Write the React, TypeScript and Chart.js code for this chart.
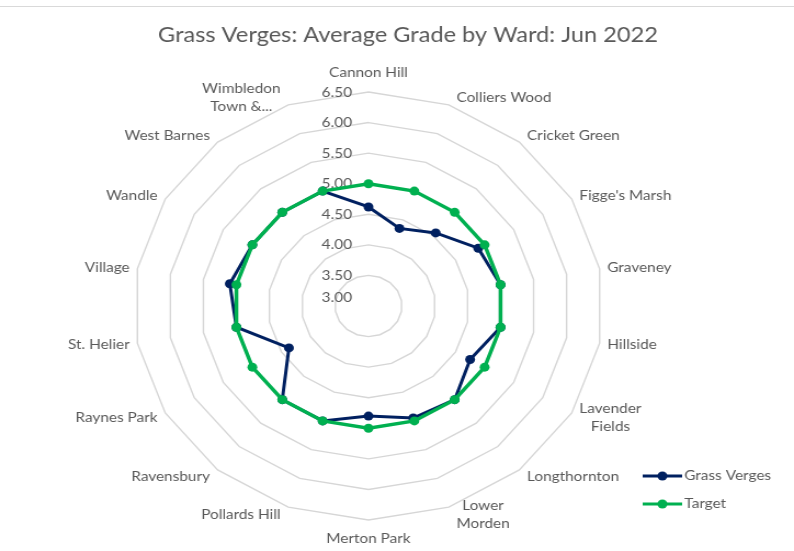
import React, { useEffect, useRef } from 'react';
import { Chart, registerables } from 'chart.js';

Chart.register(...registerables);

// ---- data ----
const chartTitle = 'Grass Verges: Average Grade by Ward: Jun 2022';
const wards: (string | string[])[] = [
  'Cannon Hill',
  'Colliers Wood',
  'Cricket Green',
  "Figge's Marsh",
  'Graveney',
  'Hillside',
  ['Lavender', 'Fields'],
  'Longthornton',
  ['Lower', 'Morden'],
  'Merton Park',
  'Pollards Hill',
  'Ravensbury',
  'Raynes Park',
  'St. Helier',
  'Village',
  'Wandle',
  'West Barnes',
  ['Wimbledon', 'Town &...'],
];
const grassVerges = [4.62, 4.35, 4.56, 4.89, 5.0, 5.0, 4.75, 5.0, 4.95, 4.8, 5.0, 5.0, 4.37, 5.0, 5.1, 5.0, 5.0, 5.0];
const target = [5.0, 5.0, 5.0, 5.0, 5.0, 5.0, 5.0, 5.0, 5.0, 5.0, 5.0, 5.0, 5.0, 5.0, 5.0, 5.0, 5.0, 5.0];
const seriesNames = ['Grass Verges', 'Target'];
const scaleMin = 3.0;
const scaleMax = 6.5;
const scaleStep = 0.5;

// ---- styles ----
const FONT = 'Lato, "Open Sans", "DejaVu Sans", sans-serif';
const TEXT = '#595959';
const NAVY = '#002060';
const GREEN = '#00B050';
const CANVAS_W = 724;
const CANVAS_H = 551;

const decorPlugin = {
  id: 'excelDecor',
  beforeDatasetsDraw(chart: any) {
    const ctx = chart.ctx;
    const r = chart.scales.r;
    ctx.save();
    ctx.font = `14px ${FONT}`;
    ctx.fillStyle = TEXT;
    ctx.textAlign = 'right';
    ctx.textBaseline = 'middle';
    r.ticks.forEach((t: any) => {
      const d = r.getDistanceFromCenterForValue(t.value);
      let y = r.yCenter - d;
      if (d < 1) y -= 9;
      ctx.fillText(Number(t.value).toFixed(2), r.xCenter - 15, y);
    });
    ctx.restore();
  },
  afterDraw(chart: any) {
    const ctx = chart.ctx;
    const r = chart.scales.r;
    ctx.save();

    // frame line at the top
    ctx.strokeStyle = '#d9d9d9';
    ctx.lineWidth = 1;
    ctx.beginPath();
    ctx.moveTo(0, 6.5);
    ctx.lineTo(CANVAS_W, 6.5);
    ctx.stroke();

    // title
    ctx.fillStyle = TEXT;
    ctx.font = `21.5px ${FONT}`;
    ctx.textAlign = 'center';
    ctx.textBaseline = 'middle';
    ctx.fillText(chartTitle, 372, 35);

    // point labels
    ctx.font = `14px ${FONT}`;
    const labels = chart.data.labels as (string | string[])[];
    const lineH = 18;
    labels.forEach((lab, i) => {
      const lines = Array.isArray(lab) ? lab : [lab];
      const p = r.getPointPosition(i, r.drawingArea);
      const a = r.getIndexAngle(i);
      const s = Math.sin(a);
      const c = Math.cos(a);
      const w = Math.max(...lines.map((l) => ctx.measureText(l).width));
      const h = lines.length * lineH;
      let cx: number;
      let cy: number;
      if (Math.abs(s) < 0.01) {
        cx = p.x;
        cy = c > 0 ? p.y - 13 - h / 2 + 2 : p.y + 11 + h / 2 - 2;
      } else {
        const gap = 7;
        cx = s > 0 ? p.x + gap + w / 2 : p.x - gap - w / 2;
        cy = p.y - c * 8;
      }
      ctx.textAlign = 'center';
      lines.forEach((l, k) => {
        ctx.fillText(l, cx, cy + (k - (lines.length - 1) / 2) * lineH);
      });
    });

    // legend
    const ds = chart.data.datasets;
    const legendX = 586;
    const legendY = [476, 504];
    ds.forEach((d: any, k: number) => {
      const y = legendY[k];
      ctx.strokeStyle = d.borderColor;
      ctx.lineWidth = 3;
      ctx.beginPath();
      ctx.moveTo(legendX, y);
      ctx.lineTo(legendX + 36, y);
      ctx.stroke();
      ctx.fillStyle = d.borderColor;
      ctx.beginPath();
      ctx.arc(legendX + 18, y, 4.5, 0, Math.PI * 2);
      ctx.fill();
      ctx.fillStyle = TEXT;
      ctx.textAlign = 'left';
      ctx.textBaseline = 'middle';
      ctx.fillText(d.label, legendX + 38, y - 0.5);
    });

    ctx.restore();
  },
};

export default function App() {
  const ref = useRef<HTMLCanvasElement>(null);
  useEffect(() => {
    if (!ref.current) return;
    const chart = new Chart(ref.current, {
      type: 'radar',
      data: {
        labels: wards as any,
        datasets: [
          {
            label: seriesNames[0],
            data: grassVerges,
            borderColor: NAVY,
            backgroundColor: NAVY,
            pointBackgroundColor: NAVY,
            pointBorderColor: NAVY,
            borderWidth: 3,
            pointRadius: 4.5,
            pointBorderWidth: 0,
            fill: false,
            order: 1,
          },
          {
            label: seriesNames[1],
            data: target,
            borderColor: GREEN,
            backgroundColor: GREEN,
            pointBackgroundColor: GREEN,
            pointBorderColor: GREEN,
            borderWidth: 3.5,
            pointRadius: 4.5,
            pointBorderWidth: 0,
            fill: false,
            order: 0,
          },
        ],
      },
      options: {
        responsive: false,
        animation: false,
        devicePixelRatio: 1,
        layout: { padding: { top: 92, bottom: 31, left: 122, right: 174 } },
        plugins: {
          legend: { display: false },
          title: { display: false },
          tooltip: { enabled: false },
        },
        elements: { line: { tension: 0 } },
        scales: {
          r: {
            min: scaleMin,
            max: scaleMax,
            beginAtZero: false,
            ticks: { display: false, stepSize: scaleStep },
            grid: { color: '#d6d6d6', lineWidth: 1.4, circular: false },
            angleLines: { display: false },
            pointLabels: { display: false },
          },
        },
      },
      plugins: [decorPlugin],
    });
    return () => chart.destroy();
  }, []);

  return (
    <div style={{ position: 'absolute', left: 0, top: 0, width: 794, height: 551, background: '#ffffff' }}>
      <canvas
        ref={ref}
        width={CANVAS_W}
        height={CANVAS_H}
        style={{ display: 'block', width: '794px', height: '551px' }}
      />
    </div>
  );
}
